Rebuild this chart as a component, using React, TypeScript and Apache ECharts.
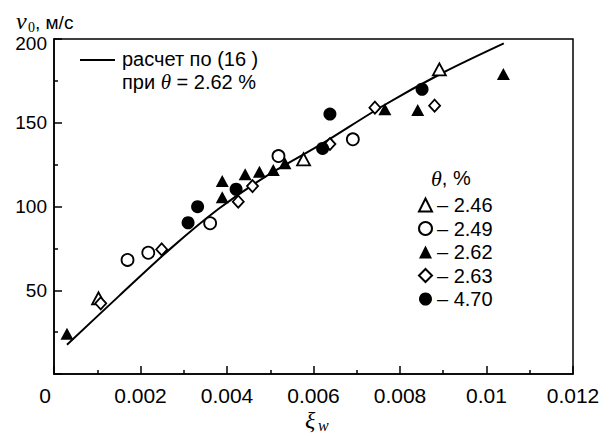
import React, { useEffect, useRef } from "react";
import * as echarts from "echarts";

const xTicks = [0, 0.002, 0.004, 0.006, 0.008, 0.01, 0.012];
const yTicks = [50, 100, 150, 200];

const calcXi = [0.0003, 0.0015, 0.0027, 0.0038, 0.0049, 0.0062, 0.0076, 0.009, 0.0104];
const calcV = [17.5, 46.5, 75, 98.5, 118, 137.5, 160, 180, 197.4];

const theta246Xi = [0.00103, 0.00577, 0.00891];
const theta246V = [45.2, 128.2, 181.9];

const theta249Xi = [0.0017, 0.00218, 0.00361, 0.00519, 0.00691];
const theta249V = [68.1, 72.4, 90.0, 130.1, 140.1];

const theta262Xi = [0.0003, 0.00389, 0.00389, 0.00442, 0.00475, 0.00507, 0.00534, 0.00765, 0.00841, 0.01039];
const theta262V = [24, 105.5, 115.2, 119.2, 120.8, 121.8, 125.8, 158.0, 157.6, 179.1];

const theta263Xi = [0.00108, 0.00249, 0.00426, 0.00459, 0.00638, 0.00742, 0.0088];
const theta263V = [42.2, 74.4, 102.9, 112.2, 137.3, 159.0, 160.2];

const theta470Xi = [0.0031, 0.00332, 0.00421, 0.00621, 0.00638, 0.00851];
const theta470V = [90.3, 99.9, 110.3, 134.7, 155.2, 170.0];

const legendNames = ["2.46", "2.49", "2.62", "2.63", "4.70"];

const SANS = "'Liberation Sans', Arial, sans-serif";
const SERIF = "'Liberation Serif', 'DejaVu Serif', serif";

const zip = (a: number[], b: number[]) => a.map((v, i) => [v, b[i]]);

export default function App() {
  const ref = useRef<HTMLDivElement>(null);
  useEffect(() => {
    document.body.style.margin = "0";
    const chart = echarts.init(ref.current!, null, { renderer: "svg" });
    const hollow = { color: "#fff", borderColor: "#000", borderWidth: 1.8, opacity: 1 };
    const solid = { color: "#000", borderColor: "#000", borderWidth: 0, opacity: 1 };
    const xLbl = { color: "#000", fontSize: 21, fontFamily: SANS };
    const yLbl = { color: "#000", fontSize: 19, fontFamily: SANS };
    chart.setOption({
      animation: false,
      backgroundColor: "#fff",
      grid: {
        left: 54,
        right: 38,
        top: 39,
        bottom: 62,
        show: true,
        borderColor: "#000",
        borderWidth: 1.5,
        backgroundColor: "transparent",
      },
      xAxis: {
        type: "value",
        min: xTicks[0],
        max: xTicks[xTicks.length - 1],
        interval: xTicks[1] - xTicks[0],
        axisLine: { show: true, onZero: false, lineStyle: { color: "#000", width: 1.5 } },
        axisTick: { show: true, inside: true, length: 8, lineStyle: { color: "#000", width: 1.5 } },
        minorTick: { show: true, splitNumber: 2, length: 4, lineStyle: { color: "#000", width: 1.5 } },
        splitLine: { show: false },
        axisLabel: {
          ...xLbl,
          margin: 11,
          formatter: (v: number) =>
            v === 0 ? "{z|0}" : String(parseFloat(v.toFixed(4))),
          rich: { z: { ...xLbl, padding: [0, 18, 0, 0] } },
        },
      },
      yAxis: {
        type: "value",
        min: 0,
        max: yTicks[yTicks.length - 1],
        interval: yTicks[1] - yTicks[0],
        axisLine: { show: true, onZero: false, lineStyle: { color: "#000", width: 1.5 } },
        axisTick: { show: true, inside: true, length: 8, lineStyle: { color: "#000", width: 1.5 } },
        minorTick: { show: true, splitNumber: 2, length: 4, lineStyle: { color: "#000", width: 1.5 } },
        splitLine: { show: false },
        axisLabel: {
          ...yLbl,
          margin: 7,
          showMinLabel: false,
          formatter: (v: number) => (v === 200 ? "{d|200}" : yTicks.includes(v) ? String(v) : ""),
          rich: { d: { ...yLbl, padding: [9, 0, 0, 0] } },
        },
      },
      legend: {
        orient: "vertical",
        left: 413,
        top: 190,
        itemWidth: 13,
        itemHeight: 13,
        itemGap: 3.5,
        data: legendNames,
        formatter: (n: string) => "– " + n,
        textStyle: { color: "#000", fontSize: 20, fontFamily: SANS, lineHeight: 20 },
        selectedMode: false,
      },
      graphic: [
        { type: "line", shape: { x1: 80, y1: 60, x2: 115, y2: 60 }, style: { stroke: "#000", lineWidth: 2 } },
        {
          type: "text",
          x: 122,
          y: 59,
          style: { text: "расчет по (16 )", font: `20px ${SANS}`, fill: "#000", verticalAlign: "middle" },
        },
        {
          type: "text",
          x: 122,
          y: 82,
          style: {
            text: "{a|при }{t|θ}{a| = 2.62 %}",
            verticalAlign: "middle",
            rich: {
              a: { fontSize: 20, fontFamily: SANS, fill: "#000", lineHeight: 20 },
              t: { fontSize: 21, fontFamily: SERIF, fontStyle: "italic", fill: "#000", lineHeight: 20 },
            },
          },
        },
        {
          type: "text",
          x: 431,
          y: 178,
          style: {
            text: "{t|θ}{a|, %}",
            verticalAlign: "middle",
            rich: {
              a: { fontSize: 20, fontFamily: SANS, fill: "#000" },
              t: { fontSize: 22, fontFamily: SERIF, fontStyle: "italic", fill: "#000" },
            },
          },
        },
        {
          type: "text",
          x: 16,
          y: 21,
          style: { text: "v", font: `italic 24px ${SERIF}`, fill: "#000", verticalAlign: "middle" },
        },
        {
          type: "text",
          x: 28,
          y: 27,
          style: { text: "0", font: `14px ${SERIF}`, fill: "#000", verticalAlign: "middle" },
        },
        {
          type: "text",
          x: 35,
          y: 22,
          style: { text: ", м/с", font: `19px ${SANS}`, fill: "#000", verticalAlign: "middle" },
        },
        {
          type: "text",
          x: 305,
          y: 420,
          style: { text: "ξ", font: `italic 24px ${SERIF}`, fill: "#000", verticalAlign: "middle" },
        },
        {
          type: "text",
          x: 318,
          y: 425,
          style: { text: "w", font: `italic 16px ${SERIF}`, fill: "#000", verticalAlign: "middle" },
        },
      ],
      series: [
        {
          name: "calc",
          type: "line",
          data: zip(calcXi, calcV),
          symbol: "none",
          smooth: 0.3,
          lineStyle: { color: "#000", width: 2 },
          z: 1,
        },
        {
          name: legendNames[0],
          type: "scatter",
          symbol: "triangle",
          symbolSize: [13, 12],
          data: zip(theta246Xi, theta246V),
          itemStyle: hollow,
          z: 3,
        },
        {
          name: legendNames[1],
          type: "scatter",
          symbol: "circle",
          symbolSize: 12,
          data: zip(theta249Xi, theta249V),
          itemStyle: hollow,
          z: 3,
        },
        {
          name: legendNames[2],
          type: "scatter",
          symbol: "triangle",
          symbolSize: [13, 12],
          data: zip(theta262Xi, theta262V),
          itemStyle: solid,
          z: 3,
        },
        {
          name: legendNames[3],
          type: "scatter",
          symbol: "diamond",
          symbolSize: [11, 12],
          data: zip(theta263Xi, theta263V),
          itemStyle: hollow,
          z: 3,
        },
        {
          name: legendNames[4],
          type: "scatter",
          symbol: "circle",
          symbolSize: 13,
          data: zip(theta470Xi, theta470V),
          itemStyle: solid,
          z: 3,
        },
      ],
    });
    return () => chart.dispose();
  }, []);
  return <div ref={ref} style={{ width: 611, height: 436 }} />;
}
